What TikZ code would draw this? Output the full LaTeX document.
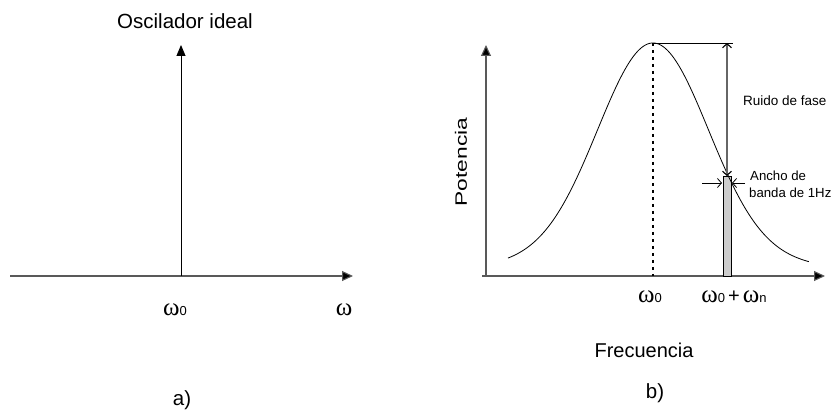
\documentclass[tikz,border=0pt]{standalone}
\usepackage{fontspec}
\setmainfont{Liberation Sans}
\newfontfamily\serifgr{Liberation Serif}
\usetikzlibrary{arrows.meta}
\newcommand\omg{{\fontsize{25}{25}\selectfont\serifgr ω}}
\newcommand\sub[1]{{\fontsize{13}{13}\selectfont #1}}
\tikzset{
  axis/.style={draw=black!65, line width=1.1pt, -{Triangle[length=11pt,width=10pt,fill=black]}},
  stem/.style={draw=black, line width=0.9pt, -{Triangle[length=11pt,width=9pt,fill=black]}},
  bigtxt/.style={font=\fontsize{20.5}{22}\selectfont, inner sep=0pt},
  smalltxt/.style={font=\fontsize{13.5}{15}\selectfont, inner sep=0pt, anchor=west},
  omtxt/.style={inner sep=0pt},
  openarrow/.style={draw=black, line width=0.8pt, -{Straight Barb[length=4pt,width=9pt]}},
  curve/.style={draw=black, line width=0.8pt},
}
\begin{document}
\begin{tikzpicture}[x=1pt,y=-1pt]
\useasboundingbox (0,0) rectangle (836,414);
% ---------- a) ----------
\coordinate (axL0) at (10,276);
\coordinate (axL1) at (353,276);
\coordinate (stB) at (181,276);
\coordinate (stT) at (181,45);
\draw[axis] (axL0) -- (axL1);
\draw[stem] (stB) -- (stT);
\node[bigtxt] (titleA) at (185,21) {Oscilador ideal};
\node[omtxt] (omA) at (175,310) {\omg\sub{0}};
\node[omtxt] (omB) at (344,310) {\omg};
\node[bigtxt] (labA) at (182,400) {a)};
% ---------- b) ----------
\coordinate (vaB) at (486,276);
\coordinate (vaT) at (486,45);
\coordinate (haL) at (482,276);
\coordinate (haR) at (825,276);
\draw[axis] (haL) -- (haR);
\draw[axis] (vaB) -- (vaT);
% bar
\path[fill=black!20, draw=black, line width=0.8pt] (723,276) rectangle (731,176);
% curve
\draw[curve] plot[domain=-1.45:1.56, samples=150, smooth]
  ({653+100*\x}, {276-(215*exp(-(\x*\x)/0.605)+18*exp(-(\x*\x)/4.5))});
% dotted centre line
\coordinate (pk) at (653,43);
\coordinate (pkB) at (653,276);
\draw[black, line width=1.7pt, dash pattern=on 3pt off 4pt] (pk) -- (pkB);
% top horizontal
\coordinate (hr) at (733,43);
\draw[black, line width=0.8pt] (pk) -- (hr);
% noise arrow
\coordinate (naT) at (727,43);
\coordinate (naB) at (727,176);
\draw[draw=black!60, line width=1.1pt, {Straight Barb[length=4pt,width=9pt,color=black]}-{Straight Barb[length=4pt,width=9pt,color=black]}] (naB) -- (naT);
% bandwidth arrows
\coordinate (bl0) at (702,183);
\coordinate (bl1) at (722,183);
\coordinate (br0) at (745,183);
\coordinate (br1) at (732,183);
\draw[openarrow] (bl0) -- (bl1);
\draw[openarrow] (br0) -- (br1);
% texts
\node[smalltxt] (ruido) at (743,101) {Ruido de fase};
\node[smalltxt, font=\fontsize{13.2}{15}\selectfont] (ancho1) at (750,176) {Ancho de};
\node[smalltxt, font=\fontsize{13.2}{15}\selectfont] (ancho2) at (749,193) {banda de 1Hz};
\node[inner sep=0pt, rotate=90, font=\fontsize{16.5}{18}\selectfont] (pot) at (461,162) {\scalebox{1.38}[1]{Potencia}};
\node[bigtxt, font=\fontsize{20}{22}\selectfont] (frec) at (644,350) {Frecuencia};
\node[omtxt] (omC) at (650,297) {\omg\sub{0}};
\node[omtxt] (omD) at (734,297) {\omg\sub{0}\hspace{3pt}{\fontsize{20}{20}\selectfont +}\hspace{3pt}\omg\sub{n}};
\node[bigtxt] (labB) at (655,393) {b)};
\end{tikzpicture}
\end{document}
